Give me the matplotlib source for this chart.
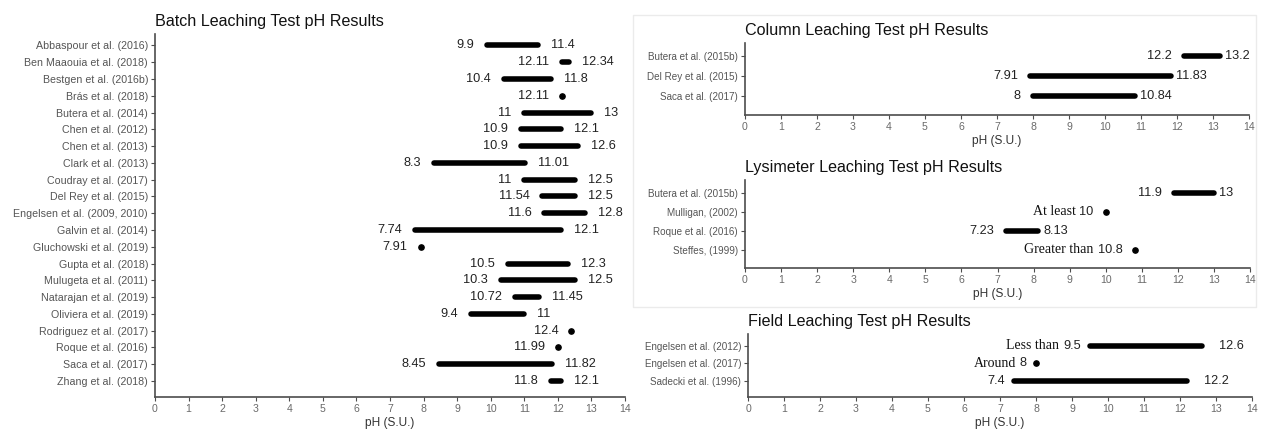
import matplotlib.pyplot as plt
from matplotlib.patches import Rectangle

plt.rcParams['font.family'] = ['Liberation Sans', 'DejaVu Sans']

# Batch leaching tests
batch_studies = ["Abbaspour et al. (2016)", "Ben Maaouia et al. (2018)", "Bestgen et al. (2016b)",
                 "Brás et al. (2018)", "Butera et al. (2014)", "Chen et al. (2012)", "Chen et al. (2013)",
                 "Clark et al. (2013)", "Coudray et al. (2017)", "Del Rey et al. (2015)",
                 "Engelsen et al. (2009, 2010)", "Galvin et al. (2014)", "Gluchowski et al. (2019)",
                 "Gupta et al. (2018)", "Mulugeta et al. (2011)", "Natarajan et al. (2019)",
                 "Oliviera et al. (2019)", "Rodriguez et al. (2017)", "Roque et al. (2016)",
                 "Saca et al. (2017)", "Zhang et al. (2018)"]
batch_low = [9.9, 12.11, 10.4, 12.11, 11, 10.9, 10.9, 8.3, 11, 11.54, 11.6, 7.74, 7.91,
             10.5, 10.3, 10.72, 9.4, 12.4, 11.99, 8.45, 11.8]
batch_high = [11.4, 12.34, 11.8, None, 13, 12.1, 12.6, 11.01, 12.5, 12.5, 12.8, 12.1, None,
              12.3, 12.5, 11.45, 11, None, None, 11.82, 12.1]
batch_prefix = [""] * len(batch_studies)

# Column leaching tests
column_studies = ["Butera et al. (2015b)", "Del Rey et al. (2015)", "Saca et al. (2017)"]
column_low = [12.2, 7.91, 8]
column_high = [13.2, 11.83, 10.84]
column_prefix = ["", "", ""]

# Lysimeter leaching tests
lysi_studies = ["Butera et al. (2015b)", "Mulligan, (2002)", "Roque et al. (2016)", "Steffes, (1999)"]
lysi_low = [11.9, 10, 7.23, 10.8]
lysi_high = [13, None, 8.13, None]
lysi_prefix = ["", "At least", "", "Greater than"]

# Field leaching tests
field_studies = ["Engelsen et al. (2012)", "Engelsen et al. (2017)", "Sadecki et al. (1996)"]
field_low = [9.5, 8, 7.4]
field_high = [12.6, None, 12.2]
field_prefix = ["Less than", "Around", ""]

W, H = 1262, 430
fig = plt.figure(figsize=(W / 100, H / 100), dpi=100)

# light frame around the column / lysimeter block
fig.patches.append(Rectangle((633 / W, 1 - 307 / H), (1256 - 633) / W, (307 - 15) / H,
                             transform=fig.transFigure, fill=False, edgecolor='#ebebeb', lw=1))


def px_axes(left, top, right, bottom):
    return fig.add_axes([left / W, 1 - bottom / H, (right - left) / W, (bottom - top) / H])


def draw_panel(ax, title, studies, low, high, prefix, gap_l, gap_r, ytick_size):
    n = len(studies)
    for i in range(n):
        lo, hi = low[i], high[i]
        if hi is None:
            ax.plot(lo, i, 'o', color='black', ms=3.8, zorder=3)
        else:
            ax.plot([lo, hi], [i, i], color='black', lw=4, solid_capstyle='round', zorder=3)
            ax.annotate(f"{hi:g}", xy=(hi, i), xytext=(gap_r, 0), textcoords='offset pixels',
                        ha='left', va='center', fontsize=9.2, color='#222222')
        num = ax.annotate(f"{lo:g}", xy=(lo, i), xytext=(-gap_l, 0), textcoords='offset pixels',
                          ha='right', va='center', fontsize=9.2, color='#222222')
        if prefix[i]:
            ax.annotate(prefix[i], xy=(0, 0.5), xycoords=num, xytext=(-4, 0),
                        textcoords='offset pixels', ha='right', va='center',
                        family='Liberation Serif', fontsize=10, color='#111111')

    ax.set_xlim(0, 14)
    ax.set_ylim(n - 1 + 0.95, -0.68)
    ax.set_xticks(range(15))
    ax.set_yticks(range(n))
    ax.set_yticklabels(studies)
    for s in ['top', 'right']:
        ax.spines[s].set_visible(False)
    for s in ['left', 'bottom']:
        ax.spines[s].set_color('#4d4d4d')
        ax.spines[s].set_linewidth(1.2)
    ax.tick_params(axis='y', length=3, width=0.8, color='#4d4d4d', pad=2,
                   labelsize=ytick_size, labelcolor='#555555')
    ax.tick_params(axis='x', length=3, width=0.8, color='#4d4d4d', pad=2,
                   labelsize=7.6, labelcolor='#6a6a6a')
    ax.set_xlabel("pH (S.U.)", fontsize=8.6, color='#333333', labelpad=2)
    ax.set_title(title, loc='left', fontsize=11.6, color='#111111', pad=6)


ax1 = px_axes(155, 34, 625, 397)
draw_panel(ax1, "Batch Leaching Test pH Results", batch_studies, batch_low, batch_high,
           batch_prefix, 13, 13, 7.7)

ax2 = px_axes(745, 43, 1249, 115)
draw_panel(ax2, "Column Leaching Test pH Results", column_studies, column_low, column_high,
           column_prefix, 12, 5, 7.1)

ax3 = px_axes(745, 180, 1250, 268)
draw_panel(ax3, "Lysimeter Leaching Test pH Results", lysi_studies, lysi_low, lysi_high,
           lysi_prefix, 12, 5, 7.1)

ax4 = px_axes(748, 334, 1252, 397)
draw_panel(ax4, "Field Leaching Test pH Results", field_studies, field_low, field_high,
           field_prefix, 9, 17, 7.1)

fig.savefig("out.png", dpi=100)
